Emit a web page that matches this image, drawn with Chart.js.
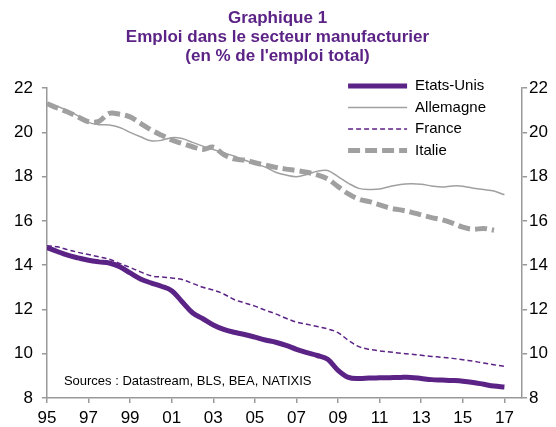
<!DOCTYPE html>
<html>
<head>
<meta charset="utf-8">
<script src="https://cdn.jsdelivr.net/npm/chart.js@4.4.0/dist/chart.umd.min.js"></script>
<style>
  html, body { margin: 0; padding: 0; background: #fff; }
</style>
</head>
<body>
<canvas id="emploi" width="556" height="427"></canvas>
<script>
// half-year periods
var periods = [1995, 1995.5, 1996, 1996.5, 1997, 1997.5, 1998, 1998.5, 1999, 1999.5,
  2000, 2000.5, 2001, 2001.5, 2002, 2002.5, 2003, 2003.5, 2004, 2004.5,
  2005, 2005.5, 2006, 2006.5, 2007, 2007.5, 2008, 2008.5, 2009, 2009.5,
  2010, 2010.5, 2011, 2011.5, 2012, 2012.5, 2013, 2013.5, 2014, 2014.5,
  2015, 2015.5, 2016, 2016.5, 2017];

var etatsUnis = [14.8, 14.62, 14.45, 14.33, 14.22, 14.15, 14.1, 13.93, 13.65, 13.38,
  13.2, 13.05, 12.85, 12.35, 11.85, 11.58, 11.3, 11.1, 10.97, 10.87,
  10.75, 10.62, 10.52, 10.38, 10.2, 10.05, 9.92, 9.75, 9.25, 8.93,
  8.88, 8.9, 8.91, 8.92, 8.93, 8.93, 8.88, 8.83, 8.81, 8.79,
  8.76, 8.7, 8.62, 8.54, 8.5];

var allemagne = [21.3, 21.18, 20.98, 20.75, 20.45, 20.35, 20.33, 20.22, 20.0, 19.8,
  19.62, 19.64, 19.76, 19.72, 19.55, 19.38, 19.23, 19.08, 18.93, 18.75,
  18.58, 18.43, 18.2, 18.07, 18.0, 18.1, 18.25, 18.28, 18.0, 17.7,
  17.47, 17.42, 17.44, 17.56, 17.65, 17.68, 17.66, 17.58, 17.53, 17.58,
  17.57, 17.48, 17.42, 17.35, 17.18];

var france = [14.88, 14.83, 14.7, 14.58, 14.48, 14.38, 14.27, 14.08, 13.9, 13.7,
  13.52, 13.47, 13.42, 13.35, 13.18, 13.0, 12.88, 12.7, 12.45, 12.3,
  12.15, 11.97, 11.8, 11.6, 11.43, 11.33, 11.23, 11.12, 10.95, 10.6,
  10.32, 10.2, 10.13, 10.08, 10.02, 9.98, 9.93, 9.88, 9.84, 9.79,
  9.73, 9.66, 9.58, 9.5, 9.43];

var italie = [21.3, 21.1, 20.92, 20.7, 20.48, 20.5, 20.86, 20.82, 20.7, 20.41,
  20.12, 19.88, 19.66, 19.5, 19.35, 19.23, 19.33, 19.0, 18.8, 18.75,
  18.63, 18.52, 18.42, 18.34, 18.28, 18.2, 18.08, 17.9, 17.55, 17.22,
  16.98, 16.87, 16.73, 16.58, 16.5, 16.4, 16.27, 16.15, 16.05, 15.9,
  15.72, 15.62, 15.66, 15.58, null];

var tickYears = [1995, 1997, 1999, 2001, 2003, 2005, 2007, 2009, 2011, 2013, 2015, 2017];
var tickLabels = ["95", "97", "99", "01", "03", "05", "07", "09", "11", "13", "15", "17"];

var titleLines = ["Graphique 1", "Emploi dans le secteur manufacturier", "(en % de l'emploi total)"];
var sourceNote = "Sources : Datastream, BLS, BEA, NATIXIS";

var purple = "#5C2386";
var grey = "#A0A0A0";
var axisGrey = "#999999";
var fontFam = "'Liberation Sans', Arial, sans-serif";

function pts(values) {
  return values.map(function (v, i) { return { x: periods[i], y: v }; });
}

// legend + source note drawn inside the plot area
var insideNotes = {
  id: "insideNotes",
  afterDraw: function (chart) {
    var ctx = chart.ctx, area = chart.chartArea;
    var x0 = area.right - 174, y0 = area.top - 2;
    ctx.save();
    ctx.font = "15px " + fontFam;
    ctx.textBaseline = "middle";
    chart.data.datasets.forEach(function (ds, i) {
      var y = y0 + i * 21.5;
      ctx.beginPath();
      ctx.strokeStyle = ds.borderColor;
      ctx.lineWidth = ds.borderWidth;
      ctx.setLineDash(ds.borderDash || []);
      ctx.moveTo(x0, y);
      ctx.lineTo(x0 + 59, y);
      ctx.stroke();
      ctx.setLineDash([]);
      ctx.fillStyle = "#000";
      ctx.fillText(ds.label, x0 + 67, y);
    });
    ctx.font = "13px " + fontFam;
    ctx.fillText(sourceNote, area.left + 17, area.bottom - 17);
    ctx.restore();
  }
};

function yAxis(pos) {
  return {
    position: pos,
    min: 8,
    max: 22,
    ticks: { stepSize: 2, color: "#000", font: { size: 17, family: fontFam }, padding: pos === "left" ? 9 : 2 },
    grid: { drawOnChartArea: false, tickLength: 5, color: axisGrey, lineWidth: 1.5 },
    border: { color: axisGrey, width: 1.5 }
  };
}

var ctx = document.getElementById("emploi").getContext("2d");
var chart = new Chart(ctx, {
  type: "line",
  data: {
    datasets: [
      { label: "Etats-Unis", data: pts(etatsUnis), borderColor: purple, borderWidth: 5, yAxisID: "y" },
      { label: "Allemagne", data: pts(allemagne), borderColor: grey, borderWidth: 1.5, yAxisID: "y" },
      { label: "France", data: pts(france), borderColor: purple, borderWidth: 1.5, borderDash: [5, 3], yAxisID: "y" },
      { label: "Italie", data: pts(italie), borderColor: grey, borderWidth: 5, borderDash: [12, 5], yAxisID: "y" }
    ]
  },
  options: {
    responsive: false,
    animation: false,
    layout: { padding: { left: 5, right: 6, top: 0, bottom: 0 } },
    elements: {
      point: { radius: 0 },
      line: { tension: 0.35, fill: false, borderJoinStyle: "round" }
    },
    plugins: {
      legend: { display: false },
      tooltip: { enabled: false },
      title: {
        display: true,
        text: titleLines,
        color: purple,
        font: { size: 17, weight: "bold", family: fontFam, lineHeight: 1.12 },
        padding: { top: 9, bottom: 22 }
      }
    },
    scales: {
      x: {
        type: "linear",
        min: 1995,
        max: 2017.85,
        afterBuildTicks: function (scale) {
          scale.ticks = tickYears.map(function (v) { return { value: v }; });
        },
        afterFit: function (scale) { scale.height = 29; },
        ticks: {
          autoSkip: false,
          maxRotation: 0,
          color: "#000",
          font: { size: 17, family: fontFam },
          padding: 5,
          callback: function (v, i) { return tickLabels[i]; }
        },
        grid: { drawOnChartArea: false, tickLength: 5, color: axisGrey, lineWidth: 1.5 },
        border: { color: axisGrey, width: 1.5 }
      },
      y: yAxis("left"),
      y2: yAxis("right")
    }
  },
  plugins: [insideNotes]
});
</script>
</body>
</html>
